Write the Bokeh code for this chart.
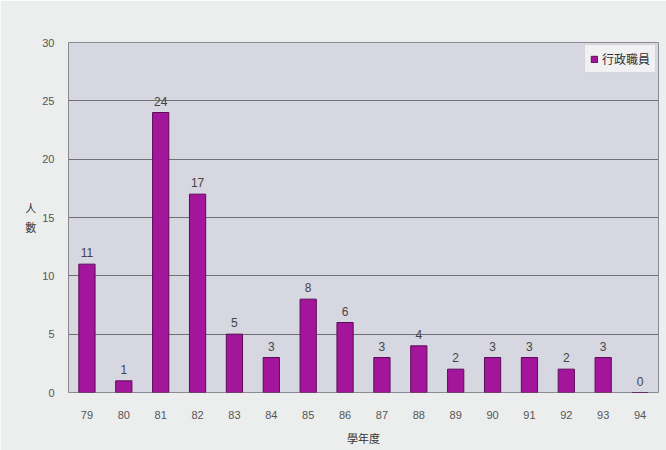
from bokeh.plotting import figure
from bokeh.models import ColumnDataSource, LabelSet, Legend, LegendItem, FixedTicker, Range1d
from bokeh.core.properties import value
from bokeh.embed import file_html
from bokeh.resources import INLINE

years = ["79", "80", "81", "82", "83", "84", "85", "86", "87", "88", "89", "90", "91", "92", "93", "94"]
staff = [11, 1, 24, 17, 5, 3, 8, 6, 3, 4, 2, 3, 3, 2, 3, 0]
series_name = "行政職員"
y_ticks = [0, 5, 10, 15, 20, 25, 30]

src = ColumnDataSource(dict(x=years, y=staff, lbl=[str(v) for v in staff]))

p = figure(x_range=years, y_range=Range1d(0, 30), width=666, height=450,
           output_backend="svg", toolbar_location=None,
           min_border_left=68, min_border_right=8, min_border_top=42, min_border_bottom=58)
p.background_fill_color = "#d7d7e1"
p.border_fill_color = "#eceeed"
p.outline_line_color = "#8a8a90"

r = p.vbar(x="x", top="y", width=0.44, source=src, fill_color="#a3169b", line_color="#5a0c55", line_width=1)

labels = LabelSet(x="x", y="y", text="lbl", source=src, y_offset=7, text_align="center",
                  text_font=value("Liberation Sans"), text_font_size=value("12px"),
                  text_color="#444444")
p.add_layout(labels)

p.yaxis.ticker = FixedTicker(ticks=y_ticks)
p.ygrid.ticker = FixedTicker(ticks=y_ticks)
p.ygrid.grid_line_color = "#6f6f74"
p.ygrid.grid_line_width = 1
p.xgrid.grid_line_color = None

for ax in (p.xaxis, p.yaxis):
    ax.axis_line_color = None
    ax.major_tick_line_color = None
    ax.minor_tick_line_color = None
    ax.major_label_text_font = "Liberation Sans"
    ax.major_label_text_font_size = "11px"
    ax.major_label_text_color = "#555555"
    ax.axis_label_text_font = "Noto Sans CJK TC"
    ax.axis_label_text_font_size = "11px"
    ax.axis_label_text_font_style = "normal"
    ax.axis_label_text_color = "#333333"

p.xaxis.major_label_standoff = 12
p.yaxis.major_label_standoff = 8
p.xaxis.axis_label = "學年度"
p.xaxis.axis_label_standoff = 8
p.yaxis.axis_label = "人\n數"
p.yaxis.axis_label_orientation = "horizontal"
p.yaxis.axis_label_standoff = 3

legend = Legend(items=[LegendItem(label=series_name, renderers=[r])], location="top_right",
                label_text_font="Noto Sans CJK TC", label_text_font_size="12px", label_text_color="#333333",
                glyph_width=8, glyph_height=8, padding=5, margin=2, spacing=0,
                background_fill_color="#f2f2f4", border_line_color="#bbbbbb", label_standoff=4)
p.add_layout(legend)

open("out.html", "w").write(file_html(p, INLINE))
